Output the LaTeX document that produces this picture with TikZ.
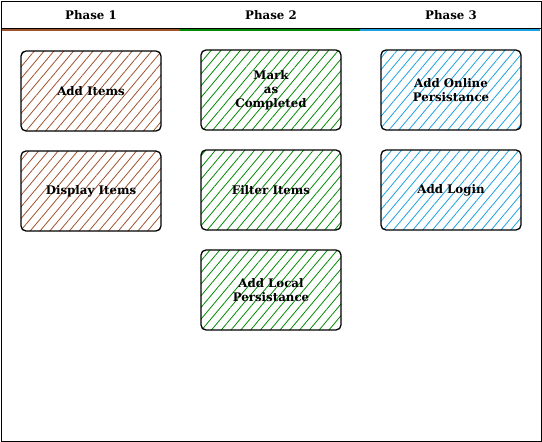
\documentclass[tikz,border=0pt]{standalone}
\usepackage{fontspec}
\setmainfont{DejaVu Serif}
\usetikzlibrary{patterns.meta}
\definecolor{cbrown}{HTML}{A0522D}
\definecolor{cgreen}{HTML}{008A00}
\definecolor{cblue}{HTML}{1BA1E2}
\tikzset{
  task/.style={draw=black, line width=1.3pt, rounded corners=5pt, minimum width=140pt, minimum height=80pt,
    align=center, font=\fontsize{11.8}{13.8}\selectfont\bfseries, inner sep=2pt},
  hb/.style={task, pattern={Lines[angle=50, distance=7.5pt, line width=0.8pt]}, pattern color=cbrown},
  hg/.style={task, pattern={Lines[angle=50, distance=7.5pt, line width=0.8pt]}, pattern color=cgreen},
  hl/.style={task, pattern={Lines[angle=50, distance=7.5pt, line width=0.8pt]}, pattern color=cblue},
  phase/.style={font=\fontsize{11.8}{13.8}\selectfont\bfseries}
}
\begin{document}
\begin{tikzpicture}[x=1pt,y=-1pt]
\useasboundingbox (0,0) rectangle (542,442);
\draw[line width=1pt] (1,1) rectangle (541,441);
\draw[line width=1pt] (1,28) -- (541,28);
\draw[cbrown, line width=2pt] (2,30) -- (180,30);
\draw[cgreen, line width=2pt] (180,30) -- (360,30);
\draw[cblue, line width=2pt] (360,30) -- (540,30);
\node[phase] (p1) at (91,15) {Phase 1};
\node[phase] (p2) at (271,15) {Phase 2};
\node[phase] (p3) at (451,15) {Phase 3};
\node[hb] (a1) at (91,91) {Add Items};
\node[hb] (a2) at (91,191) {Display Items};
\node[hg] (b1) at (271,90) {Mark\\as\\Completed};
\node[hg] (b2) at (271,190) {Filter Items};
\node[hg] (b3) at (271,290) {Add Local\\Persistance};
\node[hl] (c1) at (451,90) {Add Online\\Persistance};
\node[hl] (c2) at (451,190) {Add Login};
\end{tikzpicture}
\end{document}
